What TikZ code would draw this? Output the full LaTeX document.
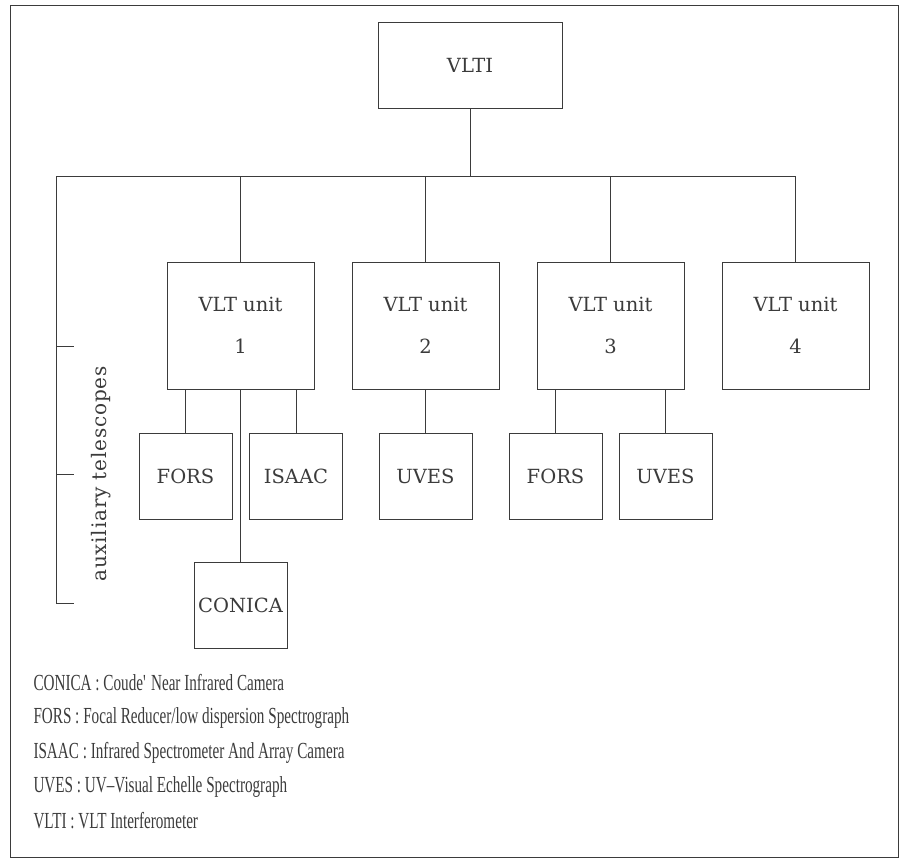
\documentclass[tikz,border=0pt]{standalone}
\usepackage{fontspec}
\usepackage{tikz}
\usetikzlibrary{positioning, calc}

\newfontfamily\legendfont[FakeStretch=0.66]{Liberation Serif}
\newfontfamily\boxfont{DejaVu Serif}
\newfontfamily\auxfont[LetterSpace=4]{DejaVu Serif}
\colorlet{ink}{black!77}

\begin{document}
\begin{tikzpicture}[
  x=1pt, y=-1pt, line width=1pt, draw=ink, text=ink,
  unitbox/.style={draw, minimum width=147pt, minimum height=127pt,
                  align=center, font=\boxfont\fontsize{19.5}{42}\selectfont},
  instbox/.style={draw, minimum width=93pt, minimum height=86pt,
                  font=\boxfont\fontsize{19.5}{23}\selectfont},
  legend/.style={anchor=west, inner sep=0pt, font=\legendfont\fontsize{23}{27}\selectfont}]
  \useasboundingbox (0,0) rectangle (902,859);
  \draw (10,6) rectangle (898,857);

  % interferometer and the four unit telescopes
  \node[draw, minimum width=184pt, minimum height=85pt,
        font=\boxfont\fontsize{19.5}{23}\selectfont] (vlti) at (470,65.5) {VLTI};
  \node[unitbox] (unit1) at (240.5,325.5) {VLT unit\\1};
  \node[unitbox, right=37pt of unit1] (unit2) {VLT unit\\2};
  \node[unitbox, right=37pt of unit2] (unit3) {VLT unit\\3};
  \node[unitbox, right=37pt of unit3] (unit4) {VLT unit\\4};

  % instruments
  \node[instbox, below=43pt of unit1, xshift=-55pt] (fors1) {FORS};
  \node[instbox, below=43pt of unit1, xshift=55.5pt] (isaac1) {ISAAC};
  \node[instbox, below=172pt of unit1] (conica1) {CONICA};
  \node[instbox, below=43pt of unit2] (uves2) {UVES};
  \node[instbox, below=43pt of unit3, xshift=-55pt] (fors3) {FORS};
  \node[instbox, below=43pt of unit3, xshift=55pt] (uves3) {UVES};

  % bus
  \coordinate (busl) at (56,176);
  \draw (vlti.south) -- (vlti.south |- busl);
  \draw (busl) -- (unit4.north |- busl);
  \draw (unit1.north) -- (unit1.north |- busl);
  \draw (unit2.north) -- (unit2.north |- busl);
  \draw (unit3.north) -- (unit3.north |- busl);
  \draw (unit4.north) -- (unit4.north |- busl);

  \draw (fors1.north) -- (fors1.north |- unit1.south);
  \draw (isaac1.north) -- (isaac1.north |- unit1.south);
  \draw (conica1.north) -- (unit1.south);
  \draw (uves2.north) -- (unit2.south);
  \draw (fors3.north) -- (fors3.north |- unit3.south);
  \draw (uves3.north) -- (uves3.north |- unit3.south);

  % auxiliary telescopes
  \coordinate (brk) at (56,603);
  \draw (busl) -- (brk) -- ++(18,0);
  \draw (56,346) -- ++(18,0);
  \draw (56,474) -- ++(18,0);
  \node[rotate=90, font=\auxfont\fontsize{20}{24}\selectfont] (auxlbl) at (101,474)
    {auxiliary telescopes};

  % legend
  \node[legend] (lgconica) at (33,683) {CONICA : Coude\textquotesingle{} Near Infrared Camera};
  \node[legend] (lgfors) at (33,718) {FORS : Focal Reducer/low dispersion Spectrograph};
  \node[legend] (lgisaac) at (33,753) {ISAAC : Infrared Spectrometer And Array Camera};
  \node[legend] (lguves) at (33,787) {UVES : UV\textendash Visual Echelle Spectrograph};
  \node[legend] (lgvlti) at (33,821) {VLTI : VLT Interferometer};
\end{tikzpicture}
\end{document}
